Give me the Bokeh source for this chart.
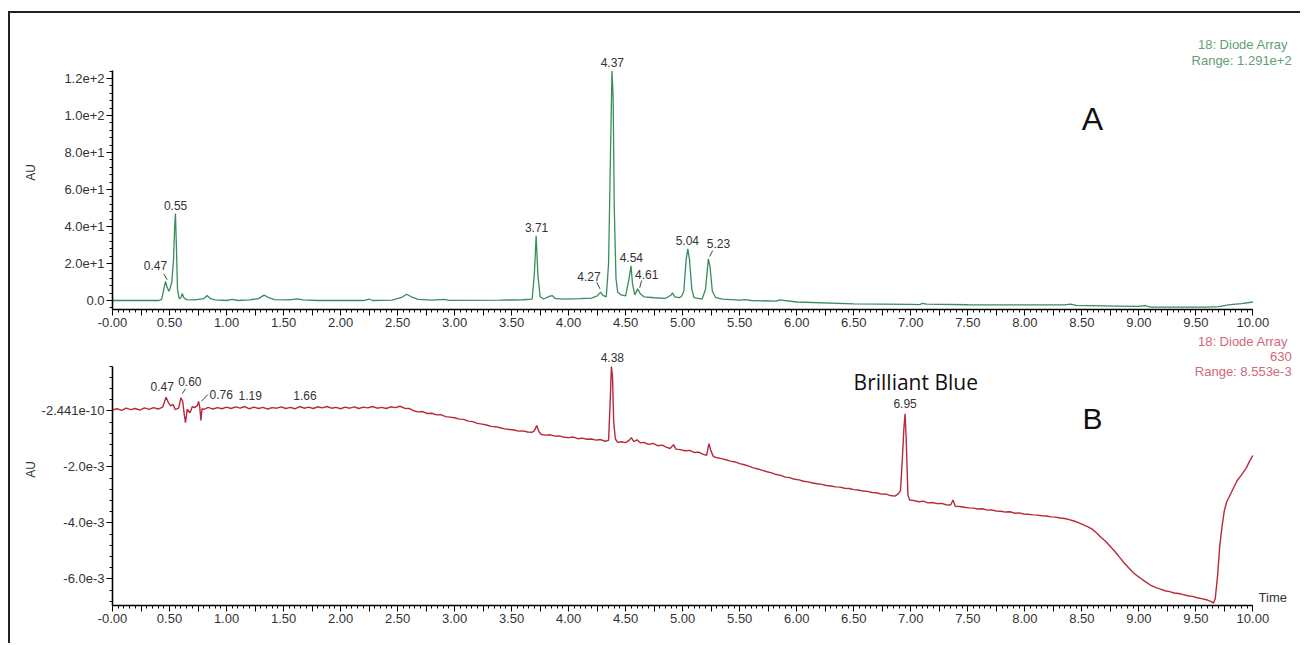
from bokeh.plotting import figure
from bokeh.layouts import column
from bokeh.models import ColumnDataSource, LabelSet, Label, FixedTicker, Range1d
from bokeh.core.properties import value
from bokeh.embed import file_html
from bokeh.resources import INLINE

# ---------------- data ----------------
# Panel A: 18: Diode Array (TIC), AU
a_time = [0.00, 0.40, 0.43, 0.45, 0.465, 0.48, 0.495, 0.505, 0.52, 0.535, 0.545, 0.552, 0.56, 0.57,
          0.585, 0.60, 0.612, 0.625, 0.65, 0.72, 0.80, 0.83, 0.86, 0.90, 1.00, 1.05, 1.10, 1.20,
          1.28, 1.33, 1.37, 1.42, 1.55, 1.62, 1.67, 1.80, 2.20, 2.25, 2.28, 2.45, 2.53, 2.58, 2.62,
          2.68, 2.80, 2.91, 2.95, 3.40, 3.60, 3.68, 3.70, 3.715, 3.73, 3.75, 3.78, 3.83, 3.855, 3.88,
          3.95, 4.10, 4.20, 4.25, 4.28, 4.30, 4.33, 4.35, 4.37, 4.38, 4.39, 4.40, 4.415, 4.43, 4.46,
          4.50, 4.53, 4.547, 4.56, 4.58, 4.605, 4.63, 4.66, 4.75, 4.85, 4.90, 4.91, 4.93, 4.97, 4.99,
          5.01, 5.03, 5.045, 5.06, 5.08, 5.10, 5.17, 5.20, 5.225, 5.24, 5.26, 5.29, 5.35, 5.50, 5.55,
          5.60, 5.82, 5.85, 6.00, 6.50, 7.00, 7.08, 7.10, 7.14, 7.50, 8.00, 8.35, 8.40, 8.45, 8.80,
          9.00, 9.05, 9.10, 9.60, 9.70, 9.80, 9.90, 10.00]
a_au = [0.0, 0.0, 0.5, 6.0, 10.3, 7.0, 5.0, 6.5, 10.0, 22.0, 40.0, 47.0, 30.0, 6.0,
        1.0, 1.5, 3.8, 1.5, 0.5, 0.3, 1.0, 2.7, 1.0, 0.3, 0.0, 0.6, 0.0, 0.3,
        1.0, 2.9, 1.5, 0.5, 0.3, 0.9, 0.3, 0.0, 0.0, 0.8, 0.0, 0.2, 1.5, 3.4, 2.0,
        0.6, 0.2, 0.6, 0.1, 0.2, 0.4, 0.8, 15.0, 35.0, 14.0, 2.0, 0.8, 2.2, 2.7, 1.2,
        0.8, 1.0, 1.3, 2.5, 4.5, 2.8, 2.0, 20.0, 90.0, 124.0, 110.0, 50.0, 12.0, 4.5, 3.0,
        2.5, 12.0, 18.7, 9.0, 3.0, 6.3, 3.5, 2.0, 1.5, 1.2, 3.0, 4.2, 2.0, 1.5, 2.3,
        5.0, 22.0, 27.9, 22.0, 6.0, 1.5, 0.8, 6.0, 22.5, 18.0, 5.0, 1.5, 0.8, 0.2, 0.5,
        0.0, -0.3, 0.3, -0.8, -1.8, -2.1, -2.2, -1.5, -2.0, -2.3, -2.4, -2.4, -2.0, -2.6, -3.0,
        -3.2, -2.8, -3.5, -3.6, -3.3, -2.2, -1.7, -0.8]

# Panel B: 18: Diode Array 630 nm, values in units of 1e-3 AU
b_time = [0.00, 0.04, 0.08, 0.12, 0.16, 0.20, 0.24, 0.28, 0.32, 0.36, 0.40, 0.44, 0.47, 0.49, 0.51,
          0.53, 0.55, 0.58, 0.60, 0.615, 0.63, 0.64, 0.655, 0.68, 0.70, 0.72, 0.745, 0.755, 0.765,
          0.775, 0.785, 0.80, 0.84, 0.88, 0.92, 0.96, 1.00, 1.04, 1.08, 1.12, 1.16, 1.20, 1.24, 1.28,
          1.32, 1.36, 1.40, 1.44, 1.48, 1.52, 1.56, 1.60, 1.64, 1.68, 1.72, 1.76, 1.80, 1.84, 1.88,
          1.92, 1.96, 2.00, 2.04, 2.08, 2.12, 2.16, 2.20, 2.24, 2.28, 2.32, 2.36, 2.40, 2.44, 2.48,
          2.52, 2.56, 2.60, 2.64, 2.68, 2.72, 2.76, 2.80, 2.84, 2.88, 2.92, 2.96, 3.00, 3.04, 3.08,
          3.12, 3.16, 3.20, 3.24, 3.28, 3.32, 3.36, 3.40, 3.44, 3.48, 3.52, 3.56, 3.60, 3.64, 3.68,
          3.70, 3.72, 3.74, 3.76, 3.80, 3.84, 3.88, 3.92, 3.96, 4.00, 4.04, 4.08, 4.12, 4.16, 4.20,
          4.24, 4.28, 4.32, 4.35, 4.365, 4.375, 4.385, 4.395, 4.41, 4.43, 4.46, 4.50, 4.53, 4.55,
          4.57, 4.60, 4.63, 4.66, 4.70, 4.74, 4.78, 4.82, 4.86, 4.89, 4.92, 4.94, 4.98, 5.02, 5.06,
          5.10, 5.14, 5.18, 5.21, 5.23, 5.25, 5.27, 5.30, 5.34, 5.38, 5.42, 5.46, 5.50, 5.54, 5.58,
          5.62, 5.66, 5.70, 5.74, 5.78, 5.82, 5.86, 5.90, 5.94, 5.98, 6.02, 6.06, 6.10, 6.14, 6.18,
          6.22, 6.26, 6.30, 6.34, 6.38, 6.42, 6.46, 6.50, 6.54, 6.58, 6.62, 6.66, 6.70, 6.74, 6.78,
          6.82, 6.86, 6.89, 6.91, 6.925, 6.94, 6.95, 6.96, 6.975, 6.99, 7.03, 7.07, 7.11, 7.15, 7.19,
          7.23, 7.27, 7.31, 7.35, 7.37, 7.39, 7.43, 7.47, 7.51, 7.55, 7.59, 7.63, 7.67, 7.71, 7.75,
          7.79, 7.83, 7.87, 7.91, 7.95, 7.99, 8.03, 8.07, 8.11, 8.15, 8.19, 8.23, 8.27, 8.31, 8.35,
          8.39, 8.43, 8.47, 8.51, 8.55, 8.59, 8.63, 8.67, 8.71, 8.75, 8.79, 8.83, 8.87, 8.91, 8.95,
          8.99, 9.03, 9.07, 9.11, 9.15, 9.19, 9.23, 9.27, 9.31, 9.35, 9.39, 9.43, 9.47, 9.51, 9.55,
          9.59, 9.63, 9.655, 9.67, 9.69, 9.71, 9.73, 9.75, 9.77, 9.80, 9.83, 9.86, 9.90, 9.94, 9.97,
          10.00]
b_milli_au = [0.04, 0.08, 0.02, 0.10, 0.05, 0.09, 0.03, 0.11, 0.06, 0.12, 0.07, 0.14, 0.49, 0.30, 0.18,
              0.24, 0.05, 0.10, 0.47, 0.35, -0.15, -0.42, 0.06, -0.06, 0.16, 0.12, 0.20, 0.34, 0.15,
              -0.34, 0.08, 0.06, 0.13, 0.07, 0.12, 0.08, 0.14, 0.09, 0.15, 0.10, 0.16, 0.08, 0.14, 0.09,
              0.13, 0.07, 0.12, 0.10, 0.15, 0.09, 0.13, 0.08, 0.16, 0.10, 0.14, 0.09, 0.15, 0.11, 0.16,
              0.10, 0.13, 0.08, 0.14, 0.10, 0.15, 0.09, 0.14, 0.11, 0.16, 0.10, 0.13, 0.09, 0.15, 0.12,
              0.17, 0.10, 0.09, 0.01, -0.03, -0.02, -0.09, -0.08, -0.14, -0.13, -0.20, -0.22, -0.24, -0.29, -0.30,
              -0.36, -0.38, -0.44, -0.47, -0.50, -0.55, -0.56, -0.60, -0.64, -0.66, -0.68, -0.72, -0.71, -0.75, -0.76,
              -0.70, -0.52, -0.74, -0.84, -0.86, -0.85, -0.90, -0.89, -0.94, -0.95, -0.93, -0.99, -0.97, -1.01, -1.00,
              -1.04, -1.02, -1.08, -1.05, 0.40, 1.59, 1.20, -0.40, -1.00, -1.12, -1.10, -1.13, -1.05, -0.95,
              -1.09, -1.03, -1.14, -1.12, -1.19, -1.16, -1.24, -1.22, -1.30, -1.34, -1.20, -1.36, -1.38, -1.42, -1.41,
              -1.48, -1.47, -1.55, -1.58, -1.17, -1.45, -1.63, -1.67, -1.70, -1.74, -1.79, -1.82, -1.88, -1.92, -1.97,
              -2.03, -2.07, -2.12, -2.17, -2.21, -2.27, -2.30, -2.36, -2.38, -2.44, -2.46, -2.51, -2.53, -2.57, -2.60,
              -2.62, -2.66, -2.68, -2.71, -2.72, -2.76, -2.77, -2.81, -2.82, -2.86, -2.87, -2.91, -2.92, -2.97, -2.96,
              -3.02, -3.04, -2.96, -2.85, -1.80, -0.60, -0.10, -1.00, -3.00, -3.18, -3.20, -3.24, -3.22, -3.28, -3.27,
              -3.31, -3.30, -3.35, -3.36, -3.18, -3.40, -3.41, -3.44, -3.46, -3.47, -3.50, -3.49, -3.54, -3.53, -3.57,
              -3.58, -3.61, -3.60, -3.65, -3.64, -3.68, -3.69, -3.71, -3.72, -3.74, -3.75, -3.78, -3.79, -3.82, -3.84,
              -3.88, -3.93, -3.99, -4.06, -4.13, -4.22, -4.36, -4.52, -4.66, -4.84, -5.02, -5.22, -5.42, -5.60, -5.77,
              -5.90, -6.02, -6.13, -6.24, -6.31, -6.36, -6.42, -6.45, -6.50, -6.52, -6.56, -6.60, -6.62, -6.67, -6.70,
              -6.74, -6.80, -6.86, -6.70, -5.90, -4.80, -4.10, -3.55, -3.25, -3.00, -2.75, -2.50, -2.28, -2.05, -1.80,
              -1.59]

# peak annotations (label text, label x, label y)
a_peak_text = ["0.47", "0.55", "3.71", "4.37", "4.27", "4.54", "4.61", "5.04", "5.23"]
a_peak_lx = [0.377, 0.553, 3.719, 4.383, 4.178, 4.550, 4.684, 5.041, 5.313]
a_peak_ly = [18.9, 51.4, 39.3, 128.6, 13.0, 23.1, 14.1, 32.4, 30.8]
a_lead_x0 = [0.450, 4.246, 4.640, 5.263]
a_lead_y0 = [14.4, 9.9, 10.8, 27.0]
a_lead_x1 = [0.479, 4.275, 4.623, 5.237]
a_lead_y1 = [11.2, 6.3, 6.9, 23.8]

b_peak_text = ["0.47", "0.60", "0.76", "1.19", "1.66", "4.38", "6.95"]
b_peak_lx = [0.436, 0.678, 0.954, 1.208, 1.687, 4.383, 6.950]
b_peak_ly = [0.875, 1.064, 0.589, 0.554, 0.554, 1.90, 0.279]
b_lead_x0 = [0.640, 0.836]
b_lead_y0 = [0.793, 0.589]
b_lead_x1 = [0.611, 0.781]
b_lead_y1 = [0.614, 0.350]

# axis ticks and labels
x_label_values = [0.0, 0.5, 1.0, 1.5, 2.0, 2.5, 3.0, 3.5, 4.0, 4.5, 5.0, 5.5, 6.0, 6.5, 7.0, 7.5,
                  8.0, 8.5, 9.0, 9.5, 10.0]
x_tick_labels = ["-0.00", "0.50", "1.00", "1.50", "2.00", "2.50", "3.00", "3.50", "4.00", "4.50",
                 "5.00", "5.50", "6.00", "6.50", "7.00", "7.50", "8.00", "8.50", "9.00", "9.50", "10.00"]
x_unlabeled_values = [0.25, 0.75, 1.25, 1.75, 2.25, 2.75, 3.25, 3.75, 4.25, 4.75, 5.25, 5.75,
                      6.25, 6.75, 7.25, 7.75, 8.25, 8.75, 9.25, 9.75]
a_y_values = [0, 20, 40, 60, 80, 100, 120]
a_y_labels = ["0.0", "2.0e+1", "4.0e+1", "6.0e+1", "8.0e+1", "1.0e+2", "1.2e+2"]
b_y_values = [0, -2, -4, -6]
b_y_labels = ["-2.441e-10", "-2.0e-3", "-4.0e-3", "-6.0e-3"]

GREEN = "#3a8c5c"
GREEN_TXT = "#5f9f72"
RED = "#b8283c"
RED_TXT = "#d2687a"
TXT = "#333333"
FONT = "Liberation Sans"

X_AXIS_BOUNDS = (0, 10)
A_AXIS_BOUNDS = (-4.86, 124.3)
B_AXIS_BOUNDS = (-6.947, 1.589)


def style_fig(p, y_values, y_labels, y_minor, standoff, ybounds):
    p.outline_line_color = None
    p.xgrid.visible = False
    p.ygrid.visible = False
    p.background_fill_color = "white"
    p.border_fill_color = "white"
    xa = p.xaxis[0]
    xa.ticker = FixedTicker(ticks=sorted(x_label_values + x_unlabeled_values),
                            minor_ticks=[i * 0.05 for i in range(201)])
    ov = {v: t for v, t in zip(x_label_values, x_tick_labels)}
    ov.update({v: "" for v in x_unlabeled_values})
    xa.major_label_overrides = ov
    xa.bounds = X_AXIS_BOUNDS
    ya = p.yaxis[0]
    ya.ticker = FixedTicker(ticks=y_values, minor_ticks=y_minor)
    ya.major_label_overrides = {v: t for v, t in zip(y_values, y_labels)}
    ya.bounds = ybounds
    ya.axis_label = "AU"
    ya.axis_label_standoff = standoff
    ya.axis_label_text_font_style = "normal"
    ya.axis_label_text_font_size = "12px"
    ya.axis_label_text_font = FONT
    ya.axis_label_text_color = TXT
    for ax in (xa, ya):
        ax.axis_line_color = "black"
        ax.axis_line_width = 1.6
        ax.major_tick_line_color = "black"
        ax.minor_tick_line_color = "black"
        ax.major_tick_out = 6
        ax.major_tick_in = 0
        ax.minor_tick_out = 3
        ax.minor_tick_in = 0
        ax.major_label_text_font = FONT
        ax.major_label_text_font_size = "13px"
        ax.major_label_text_color = TXT
        ax.major_label_standoff = 2


def peak_labels(p, xs, ys, texts, color):
    src = ColumnDataSource(dict(x=xs, y=ys, text=texts))
    p.add_layout(LabelSet(x="x", y="y", text="text", source=src, text_align="center",
                          text_baseline="middle", text_font=value(FONT),
                          text_font_size=value("12px"), text_color=value(color)))


def note(p, x, y, text, color, size="13px", font=FONT, align="right", baseline="middle"):
    p.add_layout(Label(x=x, y=y, text=text, text_align=align, text_baseline=baseline,
                       text_font=font, text_font_size=size, text_color=color))


# ---------------- panel A ----------------
p1 = figure(width=1290, height=319, x_range=Range1d(0, 10.4), y_range=Range1d(-4.86, 143.24),
            output_backend="svg", toolbar_location=None,
            min_border_left=102, min_border_right=2, min_border_top=22, min_border_bottom=23)
style_fig(p1, a_y_values, a_y_labels, [i * 4 for i in range(-1, 32)], 23, A_AXIS_BOUNDS)
p1.line(a_time, a_au, line_color=GREEN, line_width=1.3)
p1.segment(a_lead_x0, a_lead_y0, a_lead_x1, a_lead_y1, line_color="#444444", line_width=1)
peak_labels(p1, a_peak_lx, a_peak_ly, a_peak_text, TXT)
note(p1, 10.31, 138.2, "18: Diode Array", GREEN_TXT)
note(p1, 10.34, 129.7, "Range: 1.291e+2", GREEN_TXT)
note(p1, 8.594, 98.2, "A", "#111111", size="32px", align="center")

# ---------------- panel B ----------------
p2 = figure(width=1290, height=302, x_range=p1.x_range, y_range=Range1d(-6.947, 2.768),
            output_backend="svg", toolbar_location=None,
            min_border_left=102, min_border_right=2, min_border_top=1, min_border_bottom=29)
style_fig(p2, b_y_values, b_y_labels, [round(1.6 - 0.4 * i, 2) for i in range(22)], 1, B_AXIS_BOUNDS)
p2.line(b_time, b_milli_au, line_color=RED, line_width=1.4)
p2.segment(b_lead_x0, b_lead_y0, b_lead_x1, b_lead_y1, line_color="#444444", line_width=1)
peak_labels(p2, b_peak_lx, b_peak_ly, b_peak_text, TXT)
note(p2, 10.31, 2.493, "18: Diode Array", RED_TXT)
note(p2, 10.34, 1.957, "630", RED_TXT)
note(p2, 10.34, 1.421, "Range: 8.553e-3", RED_TXT)
note(p2, 8.594, -0.279, "B", "#111111", size="30px", align="center")
note(p2, 7.044, 1.029, "Brilliant Blue", "#111111", size="21px", font="Open Sans", align="center")
note(p2, 10.05, -6.93, "Time", TXT, align="left", baseline="bottom")

layout = column(p1, p2, styles={"margin-top": "11px", "margin-left": "8px",
                                "padding-bottom": "9px",
                                "border-top": "2px solid #222222",
                                "border-left": "2px solid #222222"})

open("out.html", "w").write(file_html(layout, INLINE))
